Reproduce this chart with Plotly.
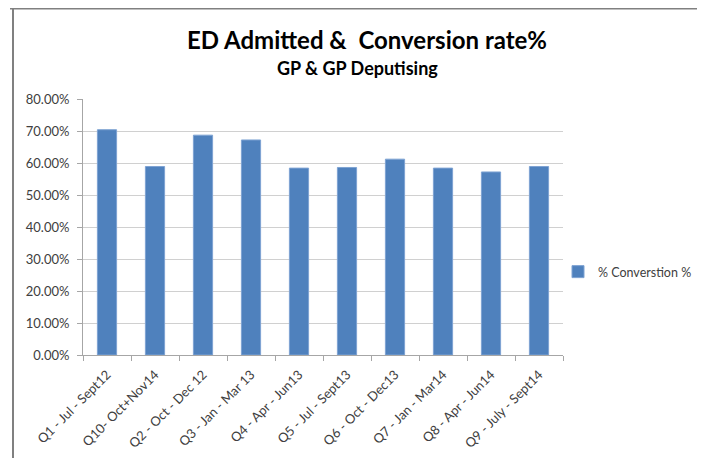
import plotly.graph_objects as go

categories = ["Q1 - Jul - Sept12", "Q10- Oct+Nov14", "Q2 - Oct - Dec 12", "Q3 - Jan - Mar 13",
              "Q4 - Apr - Jun13", "Q5 - Jul - Sept13", "Q6 - Oct - Dec13", "Q7 - Jan - Mar14",
              "Q8 - Apr - Jun14", "Q9 - July - Sept14"]
conversion = [0.704, 0.589, 0.687, 0.672, 0.584, 0.586, 0.612, 0.584, 0.572, 0.589]
series_name = "% Converstion %"
title = "ED Admitted &  Conversion rate%"
subtitle = "GP & GP Deputising"

# page offset (browser body margin)
OFF = 8
W, H = 705 - OFF, 458 - OFF
# target plot area in page pixels
PL, PR, PT, PB = 83, 563, 99, 355
L, T = PL - OFF, PT - OFF
R, B = W - (PR - OFF), H - (PB - OFF)
pw, ph = W - L - R, H - T - B

def px(x):
    return (x - OFF - L) / pw

def py(y):
    return (H - B - (y - OFF)) / ph

FONT = "Lato"

fig = go.Figure()
fig.add_trace(go.Bar(
    x=categories, y=conversion, name=series_name,
    marker=dict(color="#4F81BD", line=dict(color="#7EA3D3", width=1)),
    showlegend=True,
))

fig.update_layout(
    width=W, height=H,
    margin=dict(l=L, r=R, t=T, b=B, autoexpand=False),
    paper_bgcolor="white", plot_bgcolor="white",
    font=dict(family=FONT, size=11, color="#404040"),
    bargap=0.6,
    showlegend=True,
    legend=dict(x=px(558), y=py(272), xanchor="left", yanchor="middle",
                font=dict(family=FONT, size=12.5, color="#404040"),
                bgcolor="rgba(0,0,0,0)", itemwidth=30),
    xaxis=dict(
        type="category", tickangle=-45, showgrid=False,
        showline=True, linecolor="#A6A6A6", linewidth=1,
        ticks="outside", tickson="boundaries", ticklen=5, tickcolor="#A6A6A6",
        ticklabelstandoff=6,
        tickfont=dict(family=FONT, size=13, color="#404040"),
    ),
    yaxis=dict(
        range=[0, 0.8], dtick=0.1, tickformat=".2%",
        showgrid=True, gridcolor="#D0D0D0", gridwidth=1,
        showline=True, linecolor="#A6A6A6", linewidth=1,
        ticks="outside", ticklen=5, tickcolor="#A6A6A6",
        ticklabelstandoff=5,
        tickfont=dict(family=FONT, size=13, color="#404040"),
        zeroline=False,
    ),
    annotations=[
        dict(text="<b>" + title + "</b>", x=px(367), y=py(39), xref="paper", yref="paper",
             xanchor="center", yanchor="middle", showarrow=False,
             font=dict(family=FONT, size=24, color="black")),
        dict(text="<b>" + subtitle + "</b>", x=px(357), y=py(68), xref="paper", yref="paper",
             xanchor="center", yanchor="middle", showarrow=False,
             font=dict(family=FONT, size=18, color="black")),
    ],
    shapes=[
        dict(type="line", xref="paper", yref="paper", x0=px(10), x1=px(712), y0=py(8.5), y1=py(8.5),
             line=dict(color="#808080", width=2)),
        dict(type="line", xref="paper", yref="paper", x0=px(13), x1=px(13), y0=py(8.5), y1=py(470),
             line=dict(color="#808080", width=2)),
    ],
)

fig.write_html("out.html")
